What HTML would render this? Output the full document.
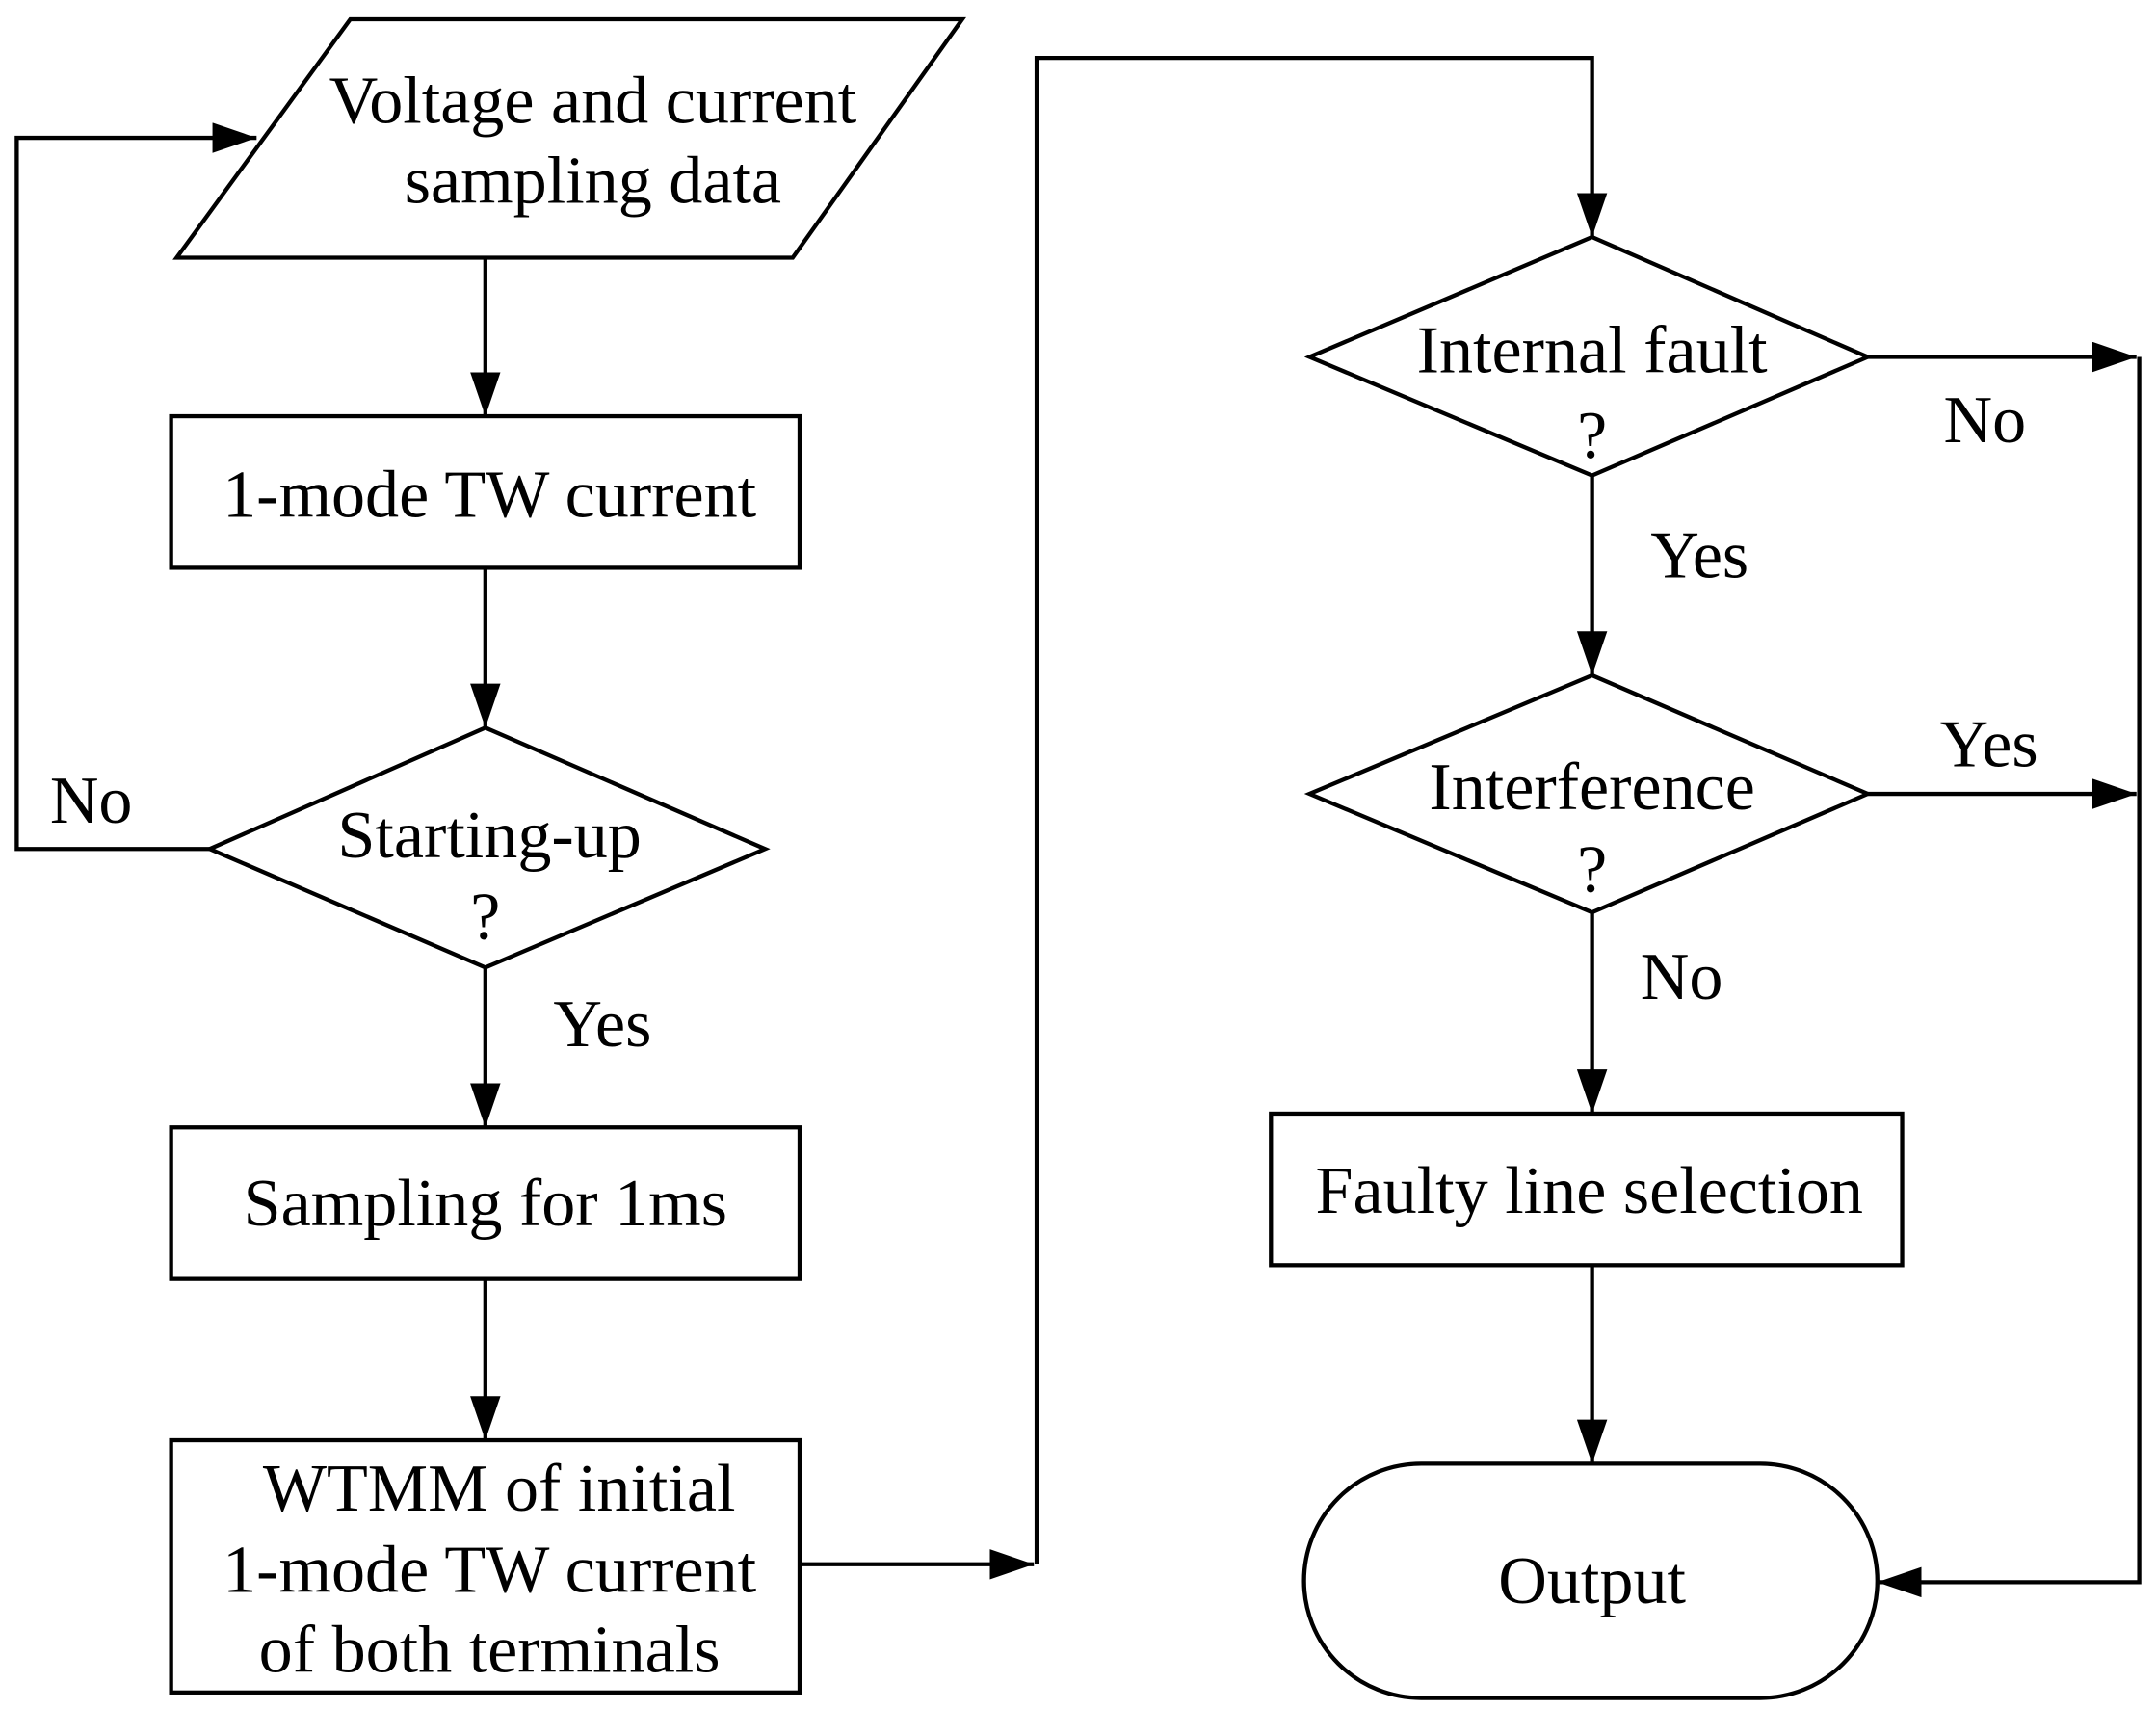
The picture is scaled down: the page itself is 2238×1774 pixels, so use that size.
<!DOCTYPE html>
<html><head><meta charset="utf-8"><style>html,body{margin:0;padding:0;background:#fff}svg{display:block}</style></head>
<body>
<svg width="2238" height="1774" viewBox="0 0 1564 1240" xmlns="http://www.w3.org/2000/svg">
<defs>
<marker id="a" markerWidth="32" markerHeight="22" refX="32" refY="11" orient="auto" markerUnits="userSpaceOnUse">
<path d="M0,0 L32,11 L0,22 Z" fill="#000"/>
</marker>
</defs>
<g fill="none" stroke="#000" stroke-width="3">
<polygon points="254,14 698,14 575,187 128,187"/>
<rect x="124" y="302" width="456" height="110"/>
<polygon points="352,528 555,616 352,702 152,616"/>
<rect x="124" y="818" width="456" height="110"/>
<rect x="124" y="1045" width="456" height="183"/>
<polygon points="1155,172 1355,259 1155,345 950,259"/>
<polygon points="1155,490 1355,576 1155,662 950,576"/>
<rect x="922" y="808" width="458" height="110"/>
<rect x="946" y="1062" width="416" height="170" rx="85" ry="85"/>
<line x1="352" y1="187" x2="352" y2="302" marker-end="url(#a)"/>
<line x1="352" y1="412" x2="352" y2="528" marker-end="url(#a)"/>
<line x1="352" y1="702" x2="352" y2="818" marker-end="url(#a)"/>
<line x1="352" y1="928" x2="352" y2="1045" marker-end="url(#a)"/>
<polyline points="152,616 12,616 12,100 186,100" marker-end="url(#a)"/>
<line x1="580" y1="1135" x2="750" y2="1135" marker-end="url(#a)"/>
<polyline points="752,1135 752,42 1155,42 1155,172" marker-end="url(#a)"/>
<line x1="1355" y1="259" x2="1550" y2="259" marker-end="url(#a)"/>
<line x1="1155" y1="345" x2="1155" y2="490" marker-end="url(#a)"/>
<line x1="1355" y1="576" x2="1550" y2="576" marker-end="url(#a)"/>
<polyline points="1552,259 1552,1148 1362,1148" marker-end="url(#a)"/>
<line x1="1155" y1="662" x2="1155" y2="808" marker-end="url(#a)"/>
<line x1="1155" y1="918" x2="1155" y2="1062" marker-end="url(#a)"/>
</g>
<g font-family="Liberation Serif, serif" font-size="49" fill="#000" text-anchor="middle">
<text x="430" y="89">Voltage and current</text>
<text x="430" y="147">sampling data</text>
<text x="355" y="375">1-mode TW current</text>
<text x="355" y="622">Starting-up</text>
<text x="352" y="681">?</text>
<text x="352" y="889">Sampling for 1ms</text>
<text x="362" y="1096">WTMM of initial</text>
<text x="355" y="1155">1-mode TW current</text>
<text x="355" y="1213">of both terminals</text>
<text x="1155" y="270">Internal fault</text>
<text x="1155" y="332">?</text>
<text x="1155" y="587">Interference</text>
<text x="1155" y="647">?</text>
<text x="1153" y="880">Faulty line selection</text>
<text x="1155" y="1163">Output</text>
<text x="66" y="597">No</text>
<text x="437" y="759">Yes</text>
<text x="1440" y="321">No</text>
<text x="1233" y="419">Yes</text>
<text x="1443" y="556">Yes</text>
<text x="1220" y="725">No</text>
</g>
</svg>
</body></html>
